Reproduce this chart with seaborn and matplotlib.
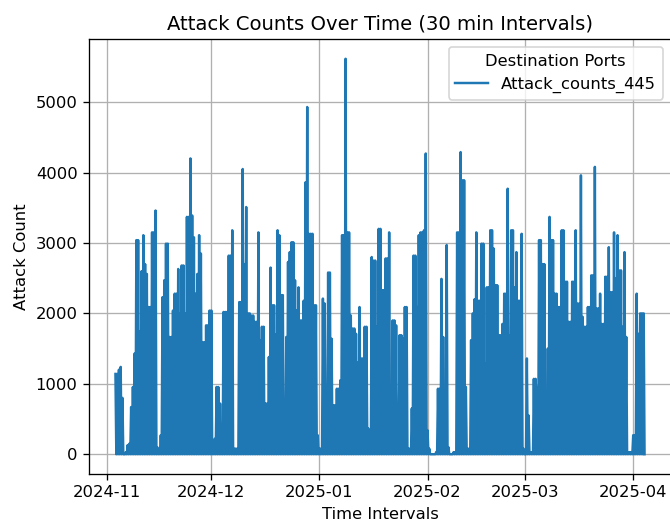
import numpy as np
import pandas as pd
import matplotlib
matplotlib.use("Agg")
import matplotlib.pyplot as plt
import seaborn as sns

# peak attack count in each 12 h slot (from 2024-11-03 12:00)
peak_counts = [
    1140, 1140, 1200, 1240, 800, 0, 30, 130, 150, 670,
    955, 1430, 3040, 3040, 1740, 2600, 3110, 2700, 2560, 2090,
    2090, 3150, 3150, 3460, 100, 60, 270, 2230, 2470, 2990,
    2990, 1665, 1665, 2040, 2280, 2280, 2630, 2000, 2680, 2680,
    2000, 3370, 3370, 4200, 3390, 3080, 2280, 2560, 3110, 2850,
    1590, 1590, 1830, 1830, 2040, 2040, 80, 220, 955, 955,
    720, 80, 2020, 2020, 2020, 2820, 2820, 3180, 80, 80,
    80, 2160, 2160, 4050, 2700, 3510, 2000, 2000, 1970, 1970,
    1880, 1880, 3150, 1620, 1810, 1810, 720, 720, 1380, 2650,
    2115, 2115, 1700, 3180, 3110, 2260, 2260, 80, 1665, 2730,
    2870, 3010, 3010, 2470, 2040, 2370, 1900, 1900, 2180, 3860,
    4930, 3130, 3130, 3130, 2115, 2115, 270, 80, 80, 2210,
    2140, 80, 2580, 2580, 1640, 695, 695, 930, 930, 1050,
    3110, 3110, 5615, 3150, 3150, 1970, 1785, 1785, 1710, 1300,
    2090, 1360, 1360, 1810, 1810, 365, 80, 2800, 2750, 2750,
    1810, 3200, 3200, 2330, 2330, 2780, 2780, 3150, 270, 1900,
    1900, 1830, 80, 1690, 1690, 1640, 2090, 2090, 80, 80,
    650, 2820, 2820, 2090, 3110, 3150, 3150, 3180, 4270, 340,
    80, 0, 0, 0, 30, 930, 930, 2490, 1665, 80,
    2970, 100, 0, 0, 30, 30, 3150, 3150, 4290, 3890,
    3890, 955, 80, 80, 1620, 2000, 2200, 3150, 2180, 2180,
    2990, 2990, 1290, 2370, 2370, 3180, 3180, 2920, 2400, 2400,
    1690, 1690, 1850, 2280, 2280, 3770, 1690, 3180, 3180, 2370,
    2870, 2180, 2180, 3130, 80, 0, 1360, 550, 30, 30,
    1070, 1070, 955, 3040, 3040, 2700, 2700, 30, 1500, 3370,
    3040, 3040, 2280, 2280, 2090, 2090, 3180, 3180, 2450, 2450,
    1880, 1880, 2450, 2450, 3180, 2140, 2140, 3960, 1950, 1810,
    1810, 2090, 2090, 2540, 2540, 4080, 2070, 2070, 2280, 1850,
    1850, 2520, 2520, 2940, 2300, 2300, 3150, 2500, 3110, 2610,
    2610, 1810, 2870, 1665, 30, 30, 30, 270, 270, 2280,
    1710, 2000, 2000, 2000,
]
# the series keeps falling back to zero between bursts
dip_counts = np.zeros(len(peak_counts))

series_label = "Attack_counts_445"
legend_title = "Destination Ports"

counts = np.column_stack([peak_counts, dip_counts]).ravel()
times = pd.date_range("2024-11-03 12:00", periods=len(counts), freq="6h")
df = pd.DataFrame({"Time": times, "Attack_Count": counts})

dpi = 118
fig = plt.figure(figsize=(670 / dpi, 521 / dpi), dpi=dpi)
ax = fig.add_axes([89 / 670, 47 / 521, 582 / 670, 435 / 521])

sns.lineplot(data=df, x="Time", y="Attack_Count", label=series_label, ax=ax)

ax.set_title("Attack Counts Over Time (30 min Intervals)")
ax.set_xlabel("Time Intervals")
ax.set_ylabel("Attack Count")
ax.legend(title=legend_title, loc="upper right")
ax.grid(True)

fig.savefig("out.png", dpi=dpi)
